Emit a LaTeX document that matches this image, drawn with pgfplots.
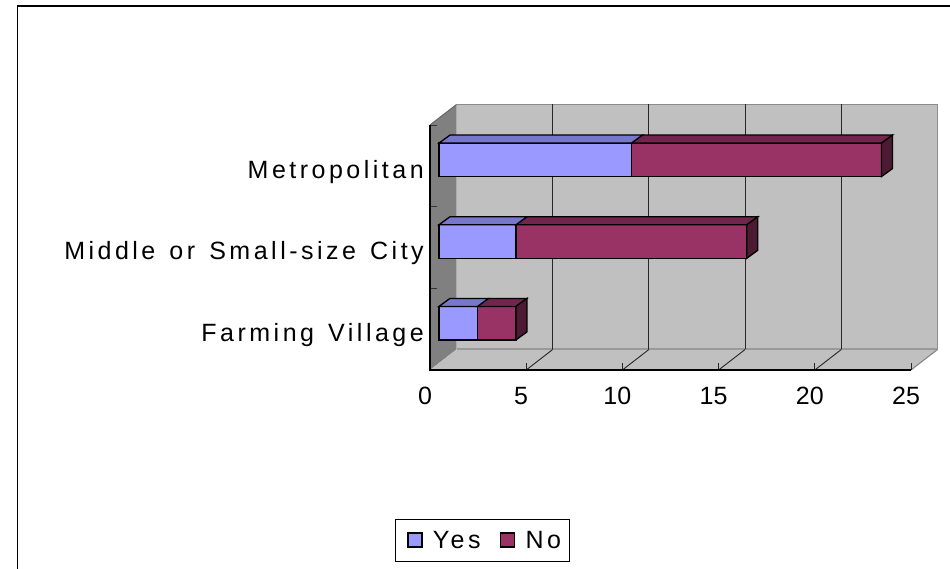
\documentclass[border=0pt]{standalone}
\usepackage{fontspec}
\setmainfont{Liberation Sans}[LetterSpace=14, WordSpace=1.35]
\newfontfamily\numfont{Liberation Sans}
\usepackage{pgfplots}
\usepackage{pgfplotstable}
\pgfplotsset{compat=1.18}

\definecolor{YesFront}{HTML}{9999FF}
\definecolor{YesTop}{HTML}{7777CC}
\definecolor{NoFront}{HTML}{993366}
\definecolor{NoTop}{HTML}{73264D}
\definecolor{NoRight}{HTML}{4D1A33}
\definecolor{WallDark}{HTML}{808080}
\definecolor{WallLight}{HTML}{C0C0C0}

\pgfplotstableread{
Cat Yes No
Farming 2 2
Middle 4 12
Metro 10 13
}\datatable

\newcommand\bxu{19.24}
\newcommand\bhh{16.75}
\newcommand\bdx{11}
\newcommand\bdy{8}

\pgfdeclareplotmark{yestop}{%
  \pgfmathsetmacro\segw{\seglen*\bxu}%
  \pgfsetlinewidth{1.3pt}\pgfsetstrokecolor{black}\pgfsetfillcolor{YesTop}%
  \pgfpathmoveto{\pgfpoint{-\segw pt}{\bhh pt}}%
  \pgfpathlineto{\pgfpoint{0pt}{\bhh pt}}%
  \pgfpathlineto{\pgfpoint{\bdx pt}{\bhh pt+\bdy pt}}%
  \pgfpathlineto{\pgfpoint{\bdx pt-\segw pt}{\bhh pt+\bdy pt}}%
  \pgfpathclose
  \pgfusepath{fill,stroke}%
}
\pgfdeclareplotmark{notop}{%
  \pgfmathsetmacro\segw{\seglen*\bxu}%
  \pgfsetlinewidth{1.3pt}\pgfsetstrokecolor{black}\pgfsetfillcolor{NoTop}%
  \pgfpathmoveto{\pgfpoint{-\segw pt}{\bhh pt}}%
  \pgfpathlineto{\pgfpoint{0pt}{\bhh pt}}%
  \pgfpathlineto{\pgfpoint{\bdx pt}{\bhh pt+\bdy pt}}%
  \pgfpathlineto{\pgfpoint{\bdx pt-\segw pt}{\bhh pt+\bdy pt}}%
  \pgfpathclose
  \pgfusepath{fill,stroke}%
  \pgfsetfillcolor{NoRight}%
  \pgfpathmoveto{\pgfpoint{0pt}{-\bhh pt}}%
  \pgfpathlineto{\pgfpoint{0pt}{\bhh pt}}%
  \pgfpathlineto{\pgfpoint{\bdx pt}{\bhh pt+\bdy pt}}%
  \pgfpathlineto{\pgfpoint{\bdx pt}{\bdy pt-\bhh pt}}%
  \pgfpathclose
  \pgfusepath{fill,stroke}%
}

\begin{document}
\begin{tikzpicture}[x=1pt,y=1pt]
\useasboundingbox (0,0) rectangle (950,569);
% outer frame
\draw[line width=1.4pt] (17.5,-5) -- (17.5,563) -- (960,563);
% 3D walls
\fill[WallDark] (430,199) -- (430,444) -- (456.5,464.5) -- (456.5,219.5) -- cycle;
\fill[WallLight] (430,199) -- (911,199) -- (937.5,219.5) -- (456.5,219.5) -- cycle;
\fill[WallLight] (456.5,219.5) rectangle (937.5,464.5);
\draw[black!45, line width=1pt] (456.5,464.5) -- (937.5,464.5) -- (937.5,219.5);
\draw[black!40, line width=2pt] (456.5,219.5) -- (937.5,219.5);
\draw[black!50, line width=1pt] (911,199) -- (937.5,219.5);
\draw[black!60, line width=1pt] (430,444) -- (456.5,464.5);
\foreach \k in {1,...,4} {
  \draw[black!85, line width=0.9pt] ({456.5+96.2*\k},219.5) -- ({456.5+96.2*\k},464.5);
  \draw[black!85, line width=0.9pt] ({430+96.2*\k},199) -- ({456.5+96.2*\k},219.5);
}
\foreach \k in {1,...,5} {
  \draw[black!85, line width=0.9pt] ({430+96.2*\k},199) -- ++(0,7);
}
\foreach \yy in {199,280.67,362.33,444} {
  \draw[black!80, line width=0.9pt] (430,\yy) -- (437,\yy);
}
\draw[black, line width=1.2pt] (430,444) -- (430,199) -- (911,199);

% axis for tick labels (front plane)
\begin{axis}[
  at={(430pt,199pt)}, anchor=south west,
  x=19.24pt, y=81.6667pt,
  xmin=0, xmax=25, ymin=-0.5, ymax=2.5,
  axis line style={draw=none}, tick style={draw=none},
  xtick={0,5,10,15,20,25}, ytick={0,1,2},
  yticklabels={Farming Village,Middle or Small-size City,Metropolitan},
  /pgf/number format/assume math mode=true,
  tick label style={inner sep=0pt},
  xticklabel style={font=\numfont\fontsize{25}{30}\selectfont, anchor=base, yshift=-35pt, xshift=-5pt},
  yticklabel style={font=\fontsize{25}{30}\selectfont, anchor=base east, xshift=-6pt, yshift=-12.5pt},
]
\end{axis}

% bars
\begin{axis}[
  at={(439pt,205pt)}, anchor=south west,
  x=19.24pt, y=81.6667pt,
  xmin=0, xmax=25, ymin=-0.5, ymax=2.5,
  hide axis, clip=false,
  xbar stacked, bar width=33.5pt,
  legend columns=2,
  legend style={at={(0.0904,-0.7196)}, anchor=center, draw=black, line width=0.8pt,
    font=\fontsize{25}{30}\selectfont, inner xsep=8pt, inner ysep=12pt,
    nodes={inner sep=0pt},
    /tikz/every even column/.append style={column sep=16pt}},
]
\addplot[fill=YesFront, draw=black, line width=1.3pt, scatter, mark=yestop,
  visualization depends on={rawx \as \seglen},
  legend image code/.code={\path[draw=none,fill=none] (0pt,0pt) -- (29pt,0pt);
    \draw[fill=YesFront, draw=black, line width=1.8pt] (3.9pt,-7pt) rectangle (17.9pt,7pt);}]
  table[x=Yes, y expr=\coordindex]{\datatable};
\addlegendentry{Yes}
\addplot[fill=NoFront, draw=black, line width=1.3pt, scatter, mark=notop,
  visualization depends on={rawx \as \seglen},
  legend image code/.code={\path[draw=none,fill=none] (0pt,0pt) -- (29pt,0pt);
    \draw[fill=NoFront, draw=black, line width=1.8pt] (3.9pt,-7pt) rectangle (17.9pt,7pt);}]
  table[x=No, y expr=\coordindex]{\datatable};
\addlegendentry{No}
\end{axis}
\end{tikzpicture}
\end{document}
